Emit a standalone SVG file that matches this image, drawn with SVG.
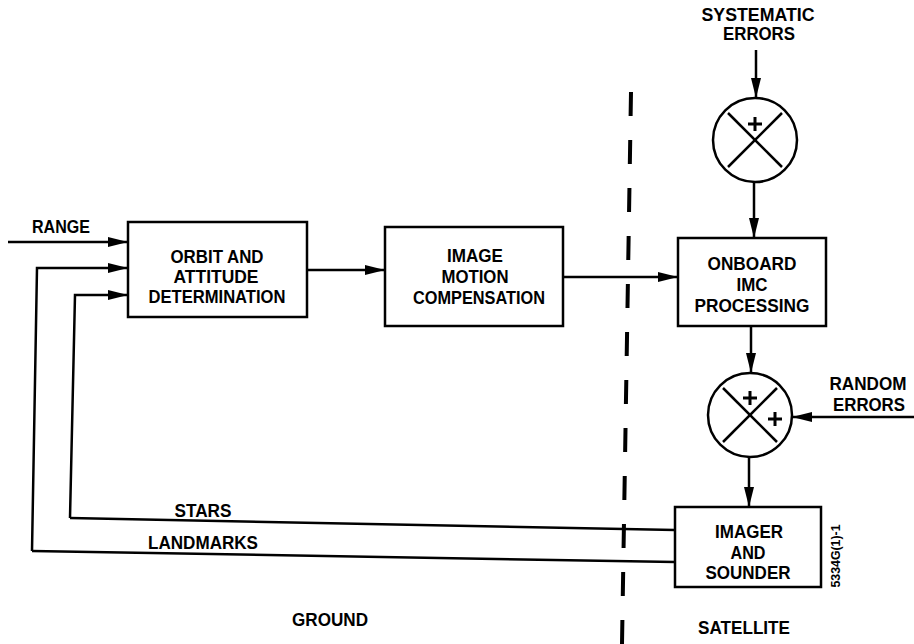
<svg xmlns="http://www.w3.org/2000/svg" width="914" height="644" viewBox="0 0 914 644">
<style>
.box{fill:#fff;stroke:#000;stroke-width:2.5}
.ln{fill:none;stroke:#000;stroke-width:2.5}
.arr{fill:none;stroke:#000;stroke-width:2.5;marker-end:url(#ah)}
.t{font-family:"Liberation Sans",Arial,sans-serif;font-weight:bold;font-size:19px;fill:#000;text-anchor:middle}
.pl{stroke:#000;stroke-width:3;fill:none}
</style>
<defs>
<marker id="ah" markerUnits="userSpaceOnUse" markerWidth="20" markerHeight="10" refX="20" refY="5" orient="auto">
<path d="M0,0 L20,5 L0,10 z" fill="#000"/>
</marker>
</defs>
<rect width="914" height="644" fill="#fff"/>
<g id="connectors">
<line class="arr" x1="8" y1="242" x2="128" y2="242"/>
<polyline class="arr" points="32,551 37,268 128,268"/>
<polyline class="arr" points="70,518 75,295 128,295"/>
<line class="arr" x1="307" y1="270" x2="385" y2="270"/>
<line class="arr" x1="563" y1="277" x2="678" y2="277"/>
<line class="arr" x1="756" y1="50" x2="756" y2="98"/>
<line class="arr" x1="754" y1="182" x2="754" y2="238"/>
<line class="arr" x1="751" y1="326" x2="751" y2="373"/>
<line class="arr" x1="749" y1="457" x2="749" y2="507"/>
<line class="arr" x1="914" y1="417" x2="792" y2="417"/>
<line class="ln" x1="70" y1="518" x2="675" y2="530"/>
<line class="ln" x1="32" y1="551" x2="675" y2="562"/>
<line x1="631" y1="92" x2="622" y2="644" stroke="#000" stroke-width="4" stroke-dasharray="24 24"/>
</g>
<g id="orbit">
<rect class="box" x="128" y="222" width="179" height="95"/>
<text class="t" x="217" y="263" textLength="93" lengthAdjust="spacingAndGlyphs">ORBIT AND</text>
<text class="t" x="216" y="283" textLength="85" lengthAdjust="spacingAndGlyphs">ATTITUDE</text>
<text class="t" x="217" y="303" textLength="137" lengthAdjust="spacingAndGlyphs">DETERMINATION</text>
</g>
<g id="imc">
<rect class="box" x="385" y="227" width="178" height="99"/>
<text class="t" x="475" y="262" textLength="56" lengthAdjust="spacingAndGlyphs">IMAGE</text>
<text class="t" x="475" y="283" textLength="67" lengthAdjust="spacingAndGlyphs">MOTION</text>
<text class="t" x="479" y="304" textLength="132" lengthAdjust="spacingAndGlyphs">COMPENSATION</text>
</g>
<g id="onboard">
<rect class="box" x="678" y="238" width="148" height="88"/>
<text class="t" x="752" y="270" textLength="89" lengthAdjust="spacingAndGlyphs">ONBOARD</text>
<text class="t" x="752" y="291" textLength="31" lengthAdjust="spacingAndGlyphs">IMC</text>
<text class="t" x="752" y="312" textLength="115" lengthAdjust="spacingAndGlyphs">PROCESSING</text>
</g>
<g id="imager">
<rect class="box" x="675" y="507" width="146" height="80"/>
<text class="t" x="749" y="538" textLength="68" lengthAdjust="spacingAndGlyphs">IMAGER</text>
<text class="t" x="748" y="559" textLength="35" lengthAdjust="spacingAndGlyphs">AND</text>
<text class="t" x="748" y="579" textLength="85" lengthAdjust="spacingAndGlyphs">SOUNDER</text>
</g>
<g id="sum1">
<circle class="ln" cx="755" cy="140" r="42"/>
<line class="ln" x1="728" y1="113" x2="782" y2="167"/>
<line class="ln" x1="782" y1="113" x2="728" y2="167"/>
<path class="pl" d="M748,124 H762 M755,117 V131"/>
</g>
<g id="sum2">
<circle class="ln" cx="750" cy="415" r="42"/>
<line class="ln" x1="723" y1="388" x2="777" y2="442"/>
<line class="ln" x1="777" y1="388" x2="723" y2="442"/>
<path class="pl" d="M743,398 H757 M750,391 V405"/>
<path class="pl" d="M768,419 H782 M775,412 V426"/>
</g>
<g id="labels">
<text class="t" x="61" y="233" textLength="58" lengthAdjust="spacingAndGlyphs">RANGE</text>
<text class="t" x="758" y="21" textLength="113" lengthAdjust="spacingAndGlyphs">SYSTEMATIC</text>
<text class="t" x="759" y="40" textLength="72" lengthAdjust="spacingAndGlyphs">ERRORS</text>
<text class="t" x="868" y="390" textLength="77" lengthAdjust="spacingAndGlyphs">RANDOM</text>
<text class="t" x="869" y="411" textLength="72" lengthAdjust="spacingAndGlyphs">ERRORS</text>
<text class="t" x="203" y="517" textLength="57" lengthAdjust="spacingAndGlyphs">STARS</text>
<text class="t" x="203" y="549" textLength="110" lengthAdjust="spacingAndGlyphs">LANDMARKS</text>
<text class="t" x="330" y="626" textLength="76" lengthAdjust="spacingAndGlyphs">GROUND</text>
<text class="t" x="744" y="634" textLength="92" lengthAdjust="spacingAndGlyphs">SATELLITE</text>
<text class="t" transform="translate(840,556) rotate(-90)" style="font-size:13px" textLength="63" lengthAdjust="spacingAndGlyphs">5334G(1)-1</text>
</g>
</svg>
